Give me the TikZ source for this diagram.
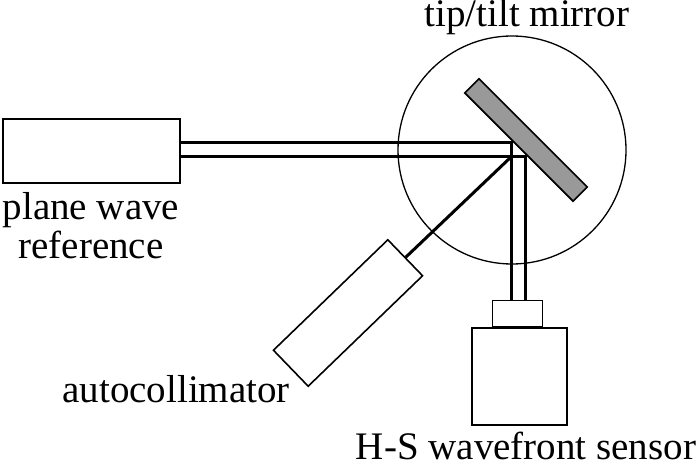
\documentclass[tikz,border=0pt]{standalone}
\usepackage{fontspec}
\setmainfont{Liberation Serif}
\usetikzlibrary{positioning}

\begin{document}
\begin{tikzpicture}[x=1pt,y=-1pt,
    box/.style={draw,line width=1.6pt,inner sep=0pt},
    beam/.style={line width=3pt},
    lbl/.style={font=\fontsize{39}{39}\selectfont,inner sep=0pt}]
  \useasboundingbox (0,0) rectangle (700,462);

  % mirror on its mount
  \node[circle,draw,line width=1.3pt,minimum size=228pt,inner sep=0pt] (tt) at (512,150) {};
  \node[box,fill=black!40,minimum width=153pt,minimum height=20pt,rotate=-45] (mir) at (526,140) {};
  \node[lbl,anchor=base] (ttl) at (527,27) {tip/tilt mirror};

  \node[box,minimum width=177pt,minimum height=64pt] (pwr) at (91.5,151) {};
  \node[lbl,align=center,anchor=north] (pwrl) at (91,192) {plane wave\\reference};

  \node[box,minimum width=159pt,minimum height=50pt,rotate=44] (acol) at (348,313) {};
  \node[lbl,anchor=base east] (acoll) at (290,402) {autocollimator};

  \node[box,minimum width=95pt,minimum height=97pt] (hs) at (519.5,376.5) {};
  \node[box,minimum width=50pt,minimum height=26pt,above=0pt of hs,xshift=-2pt] (hsh) {};
  \node[lbl,anchor=base] (hsl) at (526,459) {H-S wavefront sensor};

  % beams
  \coordinate (r1) at (511,143);
  \coordinate (r2) at (525,157);
  \coordinate (r3) at (511,157);
  \draw[beam] (pwr.east |- r1) -- (r1) -- (r1 |- hsh.north);
  \draw[beam] (pwr.east |- r2) -- (r2) -- (r2 |- hsh.north);
  \draw[beam] (r3) -- (acol.east);
\end{tikzpicture}
\end{document}
